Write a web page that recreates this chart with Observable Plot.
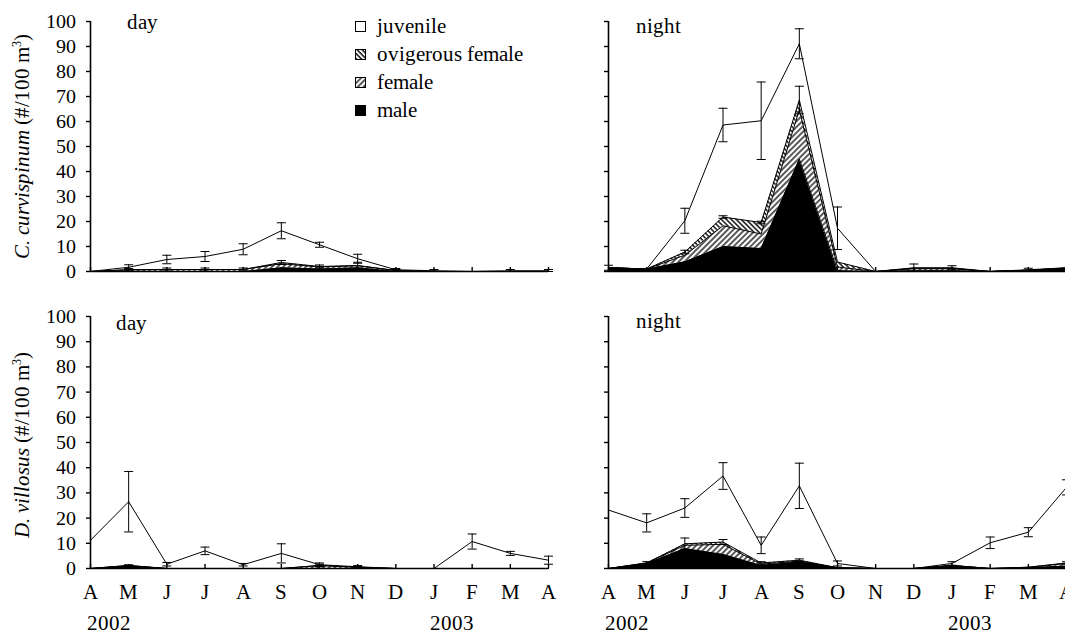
<!DOCTYPE html>
<html>
<head>
<meta charset="utf-8">
<script src="https://cdn.jsdelivr.net/npm/d3@7"></script>
<script src="https://cdn.jsdelivr.net/npm/@observablehq/plot@0.6"></script>
<style>
  @font-face { font-family: "ChartSerif"; font-style: normal; font-weight: 400;
    src: local("Liberation Serif"), local("LiberationSerif"), local("LiberationSerif-Regular"),
         local("Times New Roman"), local("DejaVu Serif"), local("DejaVuSerif"), local("Noto Serif"), local("NotoSerif-Regular"); }
  @font-face { font-family: "ChartSerif"; font-style: italic; font-weight: 400;
    src: local("Liberation Serif Italic"), local("LiberationSerif-Italic"),
         local("Times New Roman Italic"), local("DejaVu Serif Italic"), local("DejaVuSerif-Italic"), local("Noto Serif Italic"), local("NotoSerif-Italic"); }
  body { margin: 0; background: #fff; }
  #wrap { position: relative; width: 1065px; height: 635px; overflow: hidden; background: #fff;
          font-family: ChartSerif, Liberation Serif, Times New Roman, Times, DejaVu Serif, Noto Serif, serif; color: #000; }
  .panel { position: absolute; }
  .panel svg { max-width: none; display: block; }
  .panel svg text { font-family: ChartSerif, Liberation Serif, Times New Roman, Times, DejaVu Serif, Noto Serif, serif; }
  .ytitle { position: absolute; font-size: 21px; white-space: nowrap; line-height: 1;
            transform: translate(-50%, -50%) rotate(-90deg); }
  .ytitle sup { font-size: 12px; vertical-align: 8px; line-height: 0; }
  .legend { position: absolute; left: 355px; top: 12px; font-size: 21px; }
  .legend .row { position: relative; height: 28px; line-height: 28px; padding-left: 22px; white-space: nowrap; }
  .legend svg { position: absolute; left: 0; top: 9px; }
</style>
</head>
<body>
<svg width="0" height="0" style="position:absolute">
  <defs>
    <pattern id="hatchF" patternUnits="userSpaceOnUse" width="4" height="4" patternTransform="rotate(45)">
      <rect width="4" height="4" fill="white"/>
      <line x1="1" y1="0" x2="1" y2="4" stroke="black" stroke-width="1.3"/>
    </pattern>
    <pattern id="hatchO" patternUnits="userSpaceOnUse" width="3.5" height="3.5" patternTransform="rotate(-45)">
      <rect width="3.5" height="3.5" fill="white"/>
      <line x1="1" y1="0" x2="1" y2="3.5" stroke="black" stroke-width="1.4"/>
    </pattern>
  </defs>
</svg>
<div id="wrap"></div>
<script>
// ---------- shared categories / ticks ----------
const months = ["A","M","J","J","A","S","O","N","D","J","F","M","A"];
const years = ["2002", "2003"];
const yearStartIndex = [0, 9];
const yTicks = [0,10,20,30,40,50,60,70,80,90,100];
const stages = ["male", "female", "ovigerous female", "juvenile"];
const legendOrder = ["juvenile", "ovigerous female", "female", "male"];
const stageFills = ["black", "url(#hatchF)", "url(#hatchO)", "white"];

// ---------- C. curvispinum, day ----------
const ccDayMale   = [0, 0, 0, 0, 0, 1.5, 1, 1.5, 0, 0, 0, 0, 0];
const ccDayFemale = [0, 0.7, 0.8, 0.8, 0.8, 1.6, 0.8, 0.8, 0.4, 0, 0, 0, 0];
const ccDayOvig   = [0, 0, 0, 0, 0, 0.5, 0.2, 0.1, 0, 0, 0, 0, 0];
const ccDayJuv    = [0, 1, 4, 5.2, 8.1, 12.7, 8.7, 2.7, 0.3, 0.3, 0, 0.3, 0.3];
const ccDayTotErr = [0, 1, 1.7, 2, 2.2, 3.2, 1, 1.8, 0.5, 0.5, 0, 0.5, 0.5];
const ccDayAdErr  = [0, 0.5, 0.6, 0.6, 0.6, 0.8, 0.6, 1.3, 0.4, 0, 0, 0, 0];

// ---------- C. curvispinum, night ----------
const ccNightMale   = [1.5, 1, 3.9, 10, 9.2, 45, 0.3, 0, 0.3, 0.3, 0, 0.5, 1.2];
const ccNightFemale = [0, 0, 2.6, 8.3, 5.8, 19.7, 1.5, 0, 0.8, 0.8, 0, 0, 0.2];
const ccNightOvig   = [0, 0, 1.3, 3.5, 4.6, 3.9, 2, 0, 0.2, 0.2, 0, 0, 0];
const ccNightJuv    = [0, 0, 12.5, 36.8, 40.7, 22.5, 13.5, 0, 0.2, 0.2, 0, 0.2, 0.1];
const ccNightTotErr = [1, 0, 5, 6.7, 15.5, 6, 8.5, 0, 1.5, 0.8, 0, 0.6, 0];
const ccNightAdErr  = [0, 0, 0.7, 0.5, 0.5, 5.5, 0, 0, 0, 0, 0, 0, 0];

// ---------- D. villosus, day ----------
const dvDayMale   = [0, 1, 0, 0, 0, 0, 0, 0, 0, 0, 0, 0, 0];
const dvDayFemale = [0, 0.2, 0, 0, 0, 0, 1.2, 0.5, 0, 0, 0, 0, 0];
const dvDayOvig   = [0, 0, 0, 0, 0, 0, 0, 0, 0, 0, 0, 0, 0];
const dvDayJuv    = [11.2, 25.3, 1.7, 7, 1.5, 6, 0.3, 0.2, 0, 0, 10.7, 6, 3.3];
const dvDayTotErr = [0, 12, 0.7, 1.5, 0.5, 3.8, 0.7, 0.5, 0, 0, 3, 0.8, 1.6];
const dvDayAdErr  = [0, 0.3, 0, 0, 0, 0, 0.5, 0.3, 0, 0, 0, 0, 0];

// ---------- D. villosus, night ----------
const dvNightMale   = [0, 2, 7.9, 5.6, 1.2, 2.6, 0.3, 0, 0, 1.2, 0, 0.3, 1];
const dvNightFemale = [0, 0.2, 1.3, 4, 0.5, 0.3, 0, 0, 0, 0, 0, 0.2, 1];
const dvNightOvig   = [0, 0, 0.6, 0.9, 0.5, 0.4, 0, 0, 0, 0, 0, 0, 0.2];
const dvNightJuv    = [23.2, 15.9, 14.2, 26.2, 7, 29.5, 1.7, 0, 0, 0.8, 10.2, 13.9, 30];
const dvNightTotErr = [0, 3.6, 3.7, 5.3, 3.3, 9, 1, 0, 0, 0.7, 2.3, 1.8, 3];
const dvNightAdErr  = [0, 0.5, 2.3, 1, 0.5, 0.5, 0, 0, 0, 0, 0, 0, 0.5];

const FONT = "ChartSerif, Liberation Serif, Times New Roman, Times, DejaVu Serif, Noto Serif, serif";
const capSymbol = { draw(ctx, size) { const r = Math.sqrt(size / Math.PI); ctx.moveTo(-r, 0); ctx.lineTo(r, 0); } };

function panel(o) {
  const series = [o.male, o.female, o.ovig, o.juv];
  const long = [];
  stages.forEach((s, k) => series[k].forEach((v, i) => long.push({i, stage: s, v})));
  const adult = months.map((_, i) => o.male[i] + o.female[i] + o.ovig[i]);
  const total = months.map((_, i) => adult[i] + o.juv[i]);
  const errs = [];
  months.forEach((_, i) => {
    if (o.totErr[i] > 0) errs.push({i, y: total[i], e: o.totErr[i]});
    if (o.adErr[i] > 0) errs.push({i, y: adult[i], e: o.adErr[i]});
  });
  const caps = errs.flatMap(d => [{i: d.i, y: Math.max(0, d.y - d.e)}, {i: d.i, y: d.y + d.e}]);
  const idx = d3.range(months.length);
  const innerH = o.height - o.mT - o.mB;

  const marks = [
    Plot.areaY(long, Plot.stackY({x: "i", y: "v", fill: "stage", order: stages})),
    Plot.lineY(long, Plot.stackY2({x: "i", y: "v", z: "stage", order: stages, stroke: "black", strokeWidth: 1})),
    Plot.ruleX(errs, {x: "i", y1: d => Math.max(0, d.y - d.e), y2: d => d.y + d.e, stroke: "black", strokeWidth: 1}),
    Plot.dot(caps, {x: "i", y: "y", symbol: capSymbol, r: 4.5, stroke: "black", strokeWidth: 1, fill: "none"}),
    Plot.ruleX([0], {stroke: "black", strokeWidth: 1.6}),
    Plot.ruleY([0], {stroke: "black", strokeWidth: 1.6}),
    Plot.axisY({ticks: yTicks, tickSize: 4, tickPadding: 11, strokeWidth: 1.4, label: null,
                tickFormat: o.yLabels ? (d => String(d)) : (() => ""), fontSize: 20}),
    Plot.tickX(idx, {x: d => d, insetTop: innerH - 4, stroke: "black", strokeWidth: 1.4}),
    Plot.text([o.label], {frameAnchor: "top-left", lineAnchor: "middle", textAnchor: "start",
                          dx: o.labelDx, dy: o.labelDy, fontSize: 21, text: d => d})
  ];
  if (o.xLabels) {
    marks.push(Plot.axisX({ticks: idx, tickSize: 0, tickPadding: 16, fontSize: 21, label: null, tickFormat: i => months[i]}));
    marks.push(Plot.text(years, {x: (d, k) => yearStartIndex[k], frameAnchor: "bottom", lineAnchor: "middle",
                                 textAnchor: "start", dx: -4, dy: 55, fontSize: 21, text: d => d}));
  }
  const chart = Plot.plot({
    width: o.width, height: o.height,
    marginLeft: o.mL, marginRight: o.mR, marginTop: o.mT, marginBottom: o.mB,
    x: {domain: [0, 12], axis: null},
    y: {domain: [0, 100], axis: null},
    color: {domain: stages, range: stageFills},
    style: {fontFamily: FONT, fontSize: "20px", color: "black", background: "transparent", overflow: "visible"},
    marks
  });
  const div = document.createElement("div");
  div.className = "panel";
  div.style.left = o.left + "px";
  div.style.top = o.top + "px";
  div.style.width = o.width + "px";
  div.style.height = o.height + "px";
  div.appendChild(chart);
  document.getElementById("wrap").appendChild(div);
}

// top-left: C. curvispinum day
panel({male: ccDayMale, female: ccDayFemale, ovig: ccDayOvig, juv: ccDayJuv, totErr: ccDayTotErr, adErr: ccDayAdErr,
       left: 0, top: 0, width: 560, height: 290, mL: 90, mR: 12, mT: 21, mB: 19,
       yLabels: true, xLabels: false, label: "day", labelDx: 36, labelDy: 1});
// top-right: C. curvispinum night
panel({male: ccNightMale, female: ccNightFemale, ovig: ccNightOvig, juv: ccNightJuv, totErr: ccNightTotErr, adErr: ccNightAdErr,
       left: 560, top: 0, width: 560, height: 290, mL: 48, mR: 54, mT: 21, mB: 19,
       yLabels: false, xLabels: false, label: "night", labelDx: 27, labelDy: 5});
// bottom-left: D. villosus day
panel({male: dvDayMale, female: dvDayFemale, ovig: dvDayOvig, juv: dvDayJuv, totErr: dvDayTotErr, adErr: dvDayAdErr,
       left: 0, top: 290, width: 560, height: 345, mL: 90, mR: 12, mT: 26, mB: 67,
       yLabels: true, xLabels: true, label: "day", labelDx: 25, labelDy: 7});
// bottom-right: D. villosus night
panel({male: dvNightMale, female: dvNightFemale, ovig: dvNightOvig, juv: dvNightJuv, totErr: dvNightTotErr, adErr: dvNightAdErr,
       left: 560, top: 290, width: 560, height: 345, mL: 48, mR: 54, mT: 26, mB: 67,
       yLabels: false, xLabels: true, label: "night", labelDx: 27, labelDy: 5});

// y-axis titles
const wrap = document.getElementById("wrap");
const t1 = document.createElement("div");
t1.className = "ytitle"; t1.style.left = "22px"; t1.style.top = "146px";
t1.innerHTML = "<i>C. curvispinum</i> (#/100 m<sup>3</sup>)";
wrap.appendChild(t1);
const t2 = document.createElement("div");
t2.className = "ytitle"; t2.style.left = "22px"; t2.style.top = "445px";
t2.innerHTML = "<i>D. villosus</i> (#/100 m<sup>3</sup>)";
wrap.appendChild(t2);

// legend
const leg = document.createElement("div");
leg.className = "legend";
legendOrder.forEach(s => {
  const row = document.createElement("div");
  row.className = "row";
  const fill = stageFills[stages.indexOf(s)];
  row.innerHTML = `<svg width="11" height="11"><rect x="0.5" y="0.5" width="10" height="10" fill="${fill}" stroke="black" stroke-width="1"/></svg>${s}`;
  leg.appendChild(row);
});
wrap.appendChild(leg);
</script>
</body>
</html>
